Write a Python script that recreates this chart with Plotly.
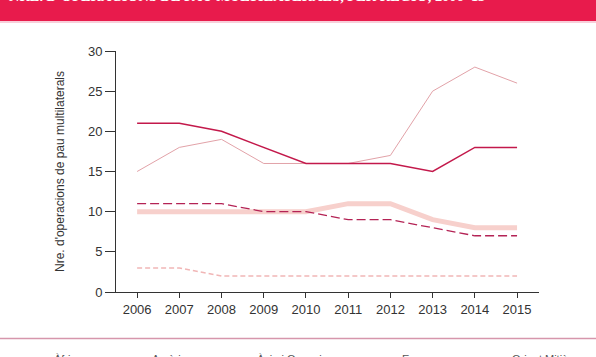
import plotly.graph_objects as go

years = [2006, 2007, 2008, 2009, 2010, 2011, 2012, 2013, 2014, 2015]
africa = [15, 18, 19, 16, 16, 16, 17, 25, 28, 26]
americas = [3, 3, 2, 2, 2, 2, 2, 2, 2, 2]
asia_oceania = [11, 11, 11, 10, 10, 9, 9, 8, 7, 7]
europe = [21, 21, 20, 18, 16, 16, 16, 15, 18, 18]
middle_east = [10, 10, 10, 10, 10, 11, 11, 9, 8, 8]

legend_labels = ["Àfrica", "Amèriques", "Àsia i Oceania", "Europa", "Orient Mitjà"]
title_text = "NRE. D'OPERACIONS DE PAU MULTILATERALS, PER REGIÓ, 2006–15"
y_title = "Nre. d'operacions de pau multilaterals"

W, H = 596, 357
ML, MR, MT, MB = 116, 57, 51, 65
PW, PH = W - ML - MR, H - MT - MB

def px_x(p):
    return (p - ML) / PW

def px_y(p):
    return (H - MB - p) / PH

fig = go.Figure()
fig.add_trace(go.Scatter(x=years, y=middle_east, mode="lines", name=legend_labels[4],
                         line=dict(color="rgb(247,208,204)", width=5)))
fig.add_trace(go.Scatter(x=years, y=africa, mode="lines", name=legend_labels[0],
                         line=dict(color="rgb(226,162,168)", width=1)))
fig.add_trace(go.Scatter(x=years, y=americas, mode="lines", name=legend_labels[1],
                         line=dict(color="rgb(241,182,182)", width=1.5, dash="5px,3px")))
fig.add_trace(go.Scatter(x=years, y=asia_oceania, mode="lines", name=legend_labels[2],
                         line=dict(color="rgb(180,35,85)", width=1.3, dash="9px,4px")))
fig.add_trace(go.Scatter(x=years, y=europe, mode="lines", name=legend_labels[3],
                         line=dict(color="rgb(195,25,75)", width=1.5)))

shapes = [
    dict(type="rect", xref="paper", yref="paper", x0=px_x(0), x1=px_x(W),
         y0=px_y(21), y1=px_y(0), fillcolor="rgb(232,27,76)", line=dict(width=0), layer="below"),
    dict(type="line", xref="paper", yref="paper", x0=px_x(0), x1=px_x(W),
         y0=px_y(22), y1=px_y(22), line=dict(color="rgb(246,190,205)", width=1.5)),
    dict(type="line", xref="paper", yref="paper", x0=px_x(0), x1=px_x(W),
         y0=px_y(338.5), y1=px_y(338.5), line=dict(color="rgb(214,150,172)", width=1.5)),
]

annotations = [
    dict(text="<b>" + title_text + "</b>", xref="paper", yref="paper", x=px_x(7), y=px_y(6.5),
         xanchor="left", yanchor="bottom", showarrow=False,
         font=dict(family="Liberation Serif", size=14.4, color="white")),
]
leg_x = [52, 150, 255, 400, 510]
for lab, lx in zip(legend_labels, leg_x):
    annotations.append(dict(text=lab, xref="paper", yref="paper", x=px_x(lx), y=px_y(351),
                            xanchor="left", yanchor="top", showarrow=False,
                            font=dict(family="Liberation Sans", size=11, color="#555555")))

fig.update_layout(
    width=W, height=H,
    margin=dict(l=ML, r=MR, t=MT, b=MB),
    paper_bgcolor="white", plot_bgcolor="white",
    showlegend=False,
    shapes=shapes, annotations=annotations,
    font=dict(family="Liberation Sans", color="#333333"),
)
fig.update_xaxes(range=[2005.5, 2015.52], tickvals=years, ticktext=[str(y) for y in years],
                 showgrid=False, zeroline=False, showline=True, linecolor="#333333", linewidth=1,
                 ticks="outside", ticklen=5, tickcolor="#333333",
                 tickfont=dict(size=13, color="#333333"))
fig.update_yaxes(range=[0, 30], tickvals=[0, 5, 10, 15, 20, 25, 30],
                 showgrid=False, zeroline=False, showline=True, linecolor="#333333", linewidth=1,
                 ticks="outside", ticklen=10, tickcolor="#333333",
                 tickfont=dict(size=13, color="#333333"),
                 title=dict(text=y_title, font=dict(size=12, color="#333333"), standoff=20))

fig.write_html("out.html", config={"displayModeBar": False},
               post_script="document.body.style.margin='0';document.body.style.overflow='hidden';")
